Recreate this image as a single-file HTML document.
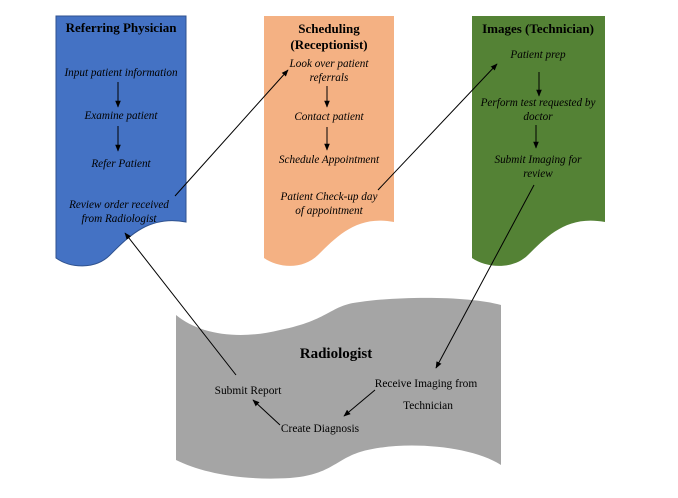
<!DOCTYPE html>
<html><head><meta charset="utf-8"><style>body{margin:0;background:#fff}svg{display:block}
.t{font-family:"Liberation Serif",serif;font-weight:bold;font-size:13px;text-anchor:middle}
.i{font-family:"Liberation Serif",serif;font-style:italic;font-size:11.2px;text-anchor:middle}
.r{font-family:"Liberation Serif",serif;font-size:11.4px;text-anchor:middle}
</style></head><body>
<svg width="678" height="498" viewBox="0 0 678 498" xmlns="http://www.w3.org/2000/svg">
<defs><marker id="a" viewBox="0 0 10 10" refX="9" refY="5" markerWidth="7" markerHeight="7" orient="auto"><path d="M0,1 L10,5 L0,9z" fill="#000"/></marker></defs>
<path d="M56,16 H186 V222 C150,215 130,235 110,255 C95,270 70,268 56,258 Z" fill="#4472c4" stroke="#2f528f" stroke-width="1"/>
<path d="M264,16 H394 V222 C358,215 338,235 318,255 C303,270 278,268 264,258 Z" fill="#f4b183"/>
<path d="M472,16 H605 V222 C568,215 548,235 528,255 C513,270 486,268 472,258 Z" fill="#548235"/>
<path d="M176,315 C200,335 240,340 280,330 C330,320 330,305 360,302 C400,296 470,296 501,305 V465 C470,445 400,440 360,452 C335,460 330,475 290,478 C240,481 200,472 176,460 Z" fill="#a5a5a5"/>
<text class="t" x="121" y="32">Referring Physician</text>
<text class="i" x="121" y="76">Input patient information</text>
<text class="i" x="121" y="119">Examine patient</text>
<text class="i" x="121" y="167">Refer Patient</text>
<text class="i" x="119" y="208">Review order received</text>
<text class="i" x="119" y="222">from Radiologist</text>
<text class="t" x="329" y="33">Scheduling</text>
<text class="t" x="329" y="49">(Receptionist)</text>
<text class="i" x="329" y="67">Look over patient</text>
<text class="i" x="329" y="81">referrals</text>
<text class="i" x="329" y="120">Contact patient</text>
<text class="i" x="329" y="163">Schedule Appointment</text>
<text class="i" x="329" y="200">Patient Check-up day</text>
<text class="i" x="329" y="214">of appointment</text>
<text class="t" x="538" y="33">Images (Technician)</text>
<text class="i" x="538" y="58">Patient prep</text>
<text class="i" x="538" y="106">Perform test requested by</text>
<text class="i" x="538" y="120">doctor</text>
<text class="i" x="538" y="163">Submit Imaging for</text>
<text class="i" x="538" y="177">review</text>
<text class="t" x="336" y="358" style="font-size:15px">Radiologist</text>
<text class="r" x="248" y="394">Submit Report</text>
<text class="r" x="426" y="387">Receive Imaging from</text>
<text class="r" x="428" y="409">Technician</text>
<text class="r" x="320" y="432">Create Diagnosis</text>
<g stroke="#000" stroke-width="1" fill="none" marker-end="url(#a)">
<line x1="118" y1="82" x2="118" y2="107"/>
<line x1="118" y1="126" x2="118" y2="151"/>
<line x1="327" y1="86" x2="327" y2="107"/>
<line x1="327" y1="127" x2="327" y2="150"/>
<line x1="539" y1="72" x2="539" y2="96"/>
<line x1="536" y1="125" x2="536" y2="148"/>
<line x1="175" y1="196" x2="288" y2="70"/>
<line x1="378" y1="190" x2="497" y2="64"/>
<line x1="534" y1="185" x2="436" y2="368"/>
<line x1="236" y1="375" x2="125" y2="233"/>
<line x1="375" y1="390" x2="344" y2="416"/>
<line x1="280" y1="425" x2="253" y2="400"/>
</g>
</svg>
</body></html>
